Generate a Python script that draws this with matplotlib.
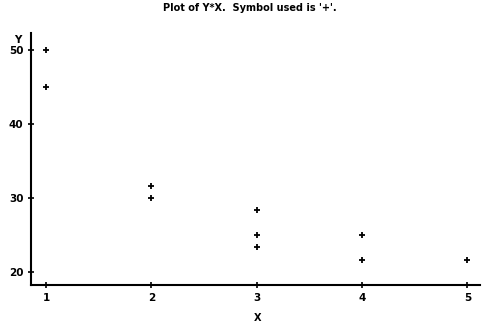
import matplotlib
matplotlib.use("Agg")
import matplotlib.pyplot as plt

# values
x_vals = [1, 1, 2, 2, 3, 3, 3, 4, 4, 5]
y_vals = [50, 45, 31.67, 30, 28.33, 25, 23.33, 25, 21.67, 21.67]
x_ticks = [1, 2, 3, 4, 5]
y_ticks = [20, 30, 40, 50]

plt.rcParams['font.family'] = 'DejaVu Sans'
plt.rcParams['font.weight'] = 'bold'

fig = plt.figure(figsize=(4.82, 3.26), dpi=100)
ax = fig.add_axes([0.0643, 0.1258, 0.9317, 0.773])

ax.scatter(x_vals, y_vals, marker='+', s=14, color='black', linewidths=1.3)

ax.set_xlim(0.857, 5.12)
ax.set_ylim(18.25, 52.3)
ax.set_xticks(x_ticks)
ax.set_yticks(y_ticks)
ax.tick_params(direction='inout', length=5, width=1.2, labelsize=7.5, pad=3)
for s in ['top', 'right']:
    ax.spines[s].set_visible(False)
for s in ['left', 'bottom']:
    ax.spines[s].set_linewidth(1.5)

fig.text(0.518, 0.975, "Plot of Y*X.  Symbol used is '+'.", ha='center', va='center',
         fontsize=7, fontweight='bold')
fig.text(0.037, 0.877, 'Y', ha='center', va='center', fontsize=7.5, fontweight='bold')
fig.text(0.535, 0.025, 'X', ha='center', va='center', fontsize=7, fontweight='bold')

fig.savefig('out.png', dpi=100)
